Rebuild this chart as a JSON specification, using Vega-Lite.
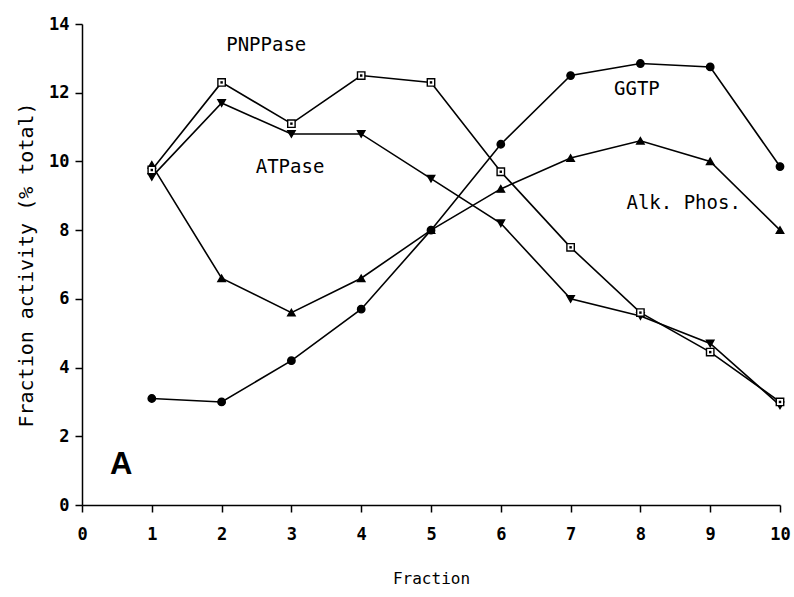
{
  "$schema": "https://vega.github.io/schema/vega-lite/v6.json",
  "width": 698,
  "height": 481,
  "autosize": {"type": "none"},
  "padding": {"left": 82, "top": 24, "right": 14, "bottom": 92},
  "background": "white",
  "config": {
    "view": {"stroke": null},
    "font": "DejaVu Sans Mono",
    "axis": {
      "grid": false,
      "labelFlush": false,
      "domainColor": "black",
      "domainWidth": 1.5,
      "tickColor": "black",
      "tickWidth": 1.5,
      "tickSize": 7,
      "labelColor": "black",
      "titleColor": "black",
      "labelFont": "DejaVu Sans Mono",
      "titleFont": "DejaVu Sans Mono",
      "labelFontSize": 17,
      "labelFontWeight": "bold",
      "titleFontSize": 17,
      "titleFontWeight": "normal"
    }
  },
  "datasets": {
    "activity": [
      {"fraction": 1, "enzyme": "GGTP", "value": 3.1},
      {"fraction": 2, "enzyme": "GGTP", "value": 3.0},
      {"fraction": 3, "enzyme": "GGTP", "value": 4.2},
      {"fraction": 4, "enzyme": "GGTP", "value": 5.7},
      {"fraction": 5, "enzyme": "GGTP", "value": 8.0},
      {"fraction": 6, "enzyme": "GGTP", "value": 10.5},
      {"fraction": 7, "enzyme": "GGTP", "value": 12.5},
      {"fraction": 8, "enzyme": "GGTP", "value": 12.85},
      {"fraction": 9, "enzyme": "GGTP", "value": 12.75},
      {"fraction": 10, "enzyme": "GGTP", "value": 9.85},
      {"fraction": 1, "enzyme": "Alk. Phos.", "value": 9.9},
      {"fraction": 2, "enzyme": "Alk. Phos.", "value": 6.6},
      {"fraction": 3, "enzyme": "Alk. Phos.", "value": 5.6},
      {"fraction": 4, "enzyme": "Alk. Phos.", "value": 6.6},
      {"fraction": 5, "enzyme": "Alk. Phos.", "value": 8.0},
      {"fraction": 6, "enzyme": "Alk. Phos.", "value": 9.2},
      {"fraction": 7, "enzyme": "Alk. Phos.", "value": 10.1},
      {"fraction": 8, "enzyme": "Alk. Phos.", "value": 10.6},
      {"fraction": 9, "enzyme": "Alk. Phos.", "value": 10.0},
      {"fraction": 10, "enzyme": "Alk. Phos.", "value": 8.0},
      {"fraction": 1, "enzyme": "ATPase", "value": 9.55},
      {"fraction": 2, "enzyme": "ATPase", "value": 11.7},
      {"fraction": 3, "enzyme": "ATPase", "value": 10.8},
      {"fraction": 4, "enzyme": "ATPase", "value": 10.8},
      {"fraction": 5, "enzyme": "ATPase", "value": 9.5},
      {"fraction": 6, "enzyme": "ATPase", "value": 8.2},
      {"fraction": 7, "enzyme": "ATPase", "value": 6.0},
      {"fraction": 8, "enzyme": "ATPase", "value": 5.5},
      {"fraction": 9, "enzyme": "ATPase", "value": 4.7},
      {"fraction": 10, "enzyme": "ATPase", "value": 2.9},
      {"fraction": 1, "enzyme": "PNPPase", "value": 9.75},
      {"fraction": 2, "enzyme": "PNPPase", "value": 12.3},
      {"fraction": 3, "enzyme": "PNPPase", "value": 11.1},
      {"fraction": 4, "enzyme": "PNPPase", "value": 12.5},
      {"fraction": 5, "enzyme": "PNPPase", "value": 12.3},
      {"fraction": 6, "enzyme": "PNPPase", "value": 9.7},
      {"fraction": 7, "enzyme": "PNPPase", "value": 7.5},
      {"fraction": 8, "enzyme": "PNPPase", "value": 5.6},
      {"fraction": 9, "enzyme": "PNPPase", "value": 4.45},
      {"fraction": 10, "enzyme": "PNPPase", "value": 3.0}
    ],
    "curveLabels": [
      {"label": "PNPPase", "fraction": 2.64, "value": 13.38},
      {"label": "ATPase", "fraction": 2.98, "value": 9.83},
      {"label": "GGTP", "fraction": 7.95, "value": 12.1},
      {"label": "Alk. Phos.", "fraction": 8.62, "value": 8.8}
    ],
    "panel": [
      {"label": "A", "fraction": 0.4, "value": 1.15}
    ]
  },
  "layer": [
    {
      "data": {"name": "activity"},
      "mark": {"type": "line", "color": "black", "strokeWidth": 1.6},
      "encoding": {
        "x": {
          "field": "fraction", "type": "quantitative",
          "scale": {"domain": [0, 10], "nice": false},
          "axis": {"values": [0, 1, 2, 3, 4, 5, 6, 7, 8, 9, 10], "format": "d", "title": "Fraction", "labelPadding": 14, "titlePadding": 28, "titleFontSize": 16}
        },
        "y": {
          "field": "value", "type": "quantitative",
          "scale": {"domain": [0, 14], "nice": false},
          "axis": {"values": [0, 2, 4, 6, 8, 10, 12, 14], "title": "Fraction activity (% total)", "labelPadding": 6, "titlePadding": 12, "titleFontSize": 20}
        },
        "detail": {"field": "enzyme"}
      }
    },
    {
      "data": {"name": "activity"},
      "mark": {"type": "point", "stroke": "black", "strokeWidth": 1.4, "opacity": 1, "size": 55},
      "encoding": {
        "x": {"field": "fraction", "type": "quantitative"},
        "y": {"field": "value", "type": "quantitative"},
        "shape": {
          "field": "enzyme", "type": "nominal", "legend": null,
          "scale": {"domain": ["GGTP", "Alk. Phos.", "ATPase", "PNPPase"], "range": ["circle", "triangle-up", "triangle-down", "square"]}
        },
        "fill": {
          "field": "enzyme", "type": "nominal", "legend": null,
          "scale": {"domain": ["GGTP", "Alk. Phos.", "ATPase", "PNPPase"], "range": ["black", "black", "black", "white"]}
        }
      }
    },
    {
      "data": {"name": "activity"},
      "transform": [{"filter": "datum.enzyme === 'PNPPase'"}],
      "mark": {"type": "point", "shape": "square", "filled": true, "color": "black", "size": 6, "opacity": 1},
      "encoding": {
        "x": {"field": "fraction", "type": "quantitative"},
        "y": {"field": "value", "type": "quantitative"}
      }
    },
    {
      "data": {"name": "curveLabels"},
      "mark": {"type": "text", "font": "DejaVu Sans Mono", "fontSize": 19, "color": "black", "align": "center", "baseline": "middle"},
      "encoding": {
        "x": {"field": "fraction", "type": "quantitative"},
        "y": {"field": "value", "type": "quantitative"},
        "text": {"field": "label"}
      }
    },
    {
      "data": {"name": "panel"},
      "mark": {"type": "text", "font": "Liberation Sans", "fontSize": 31, "fontWeight": "bold", "color": "black", "align": "left", "baseline": "middle"},
      "encoding": {
        "x": {"field": "fraction", "type": "quantitative"},
        "y": {"field": "value", "type": "quantitative"},
        "text": {"field": "label"}
      }
    }
  ]
}
